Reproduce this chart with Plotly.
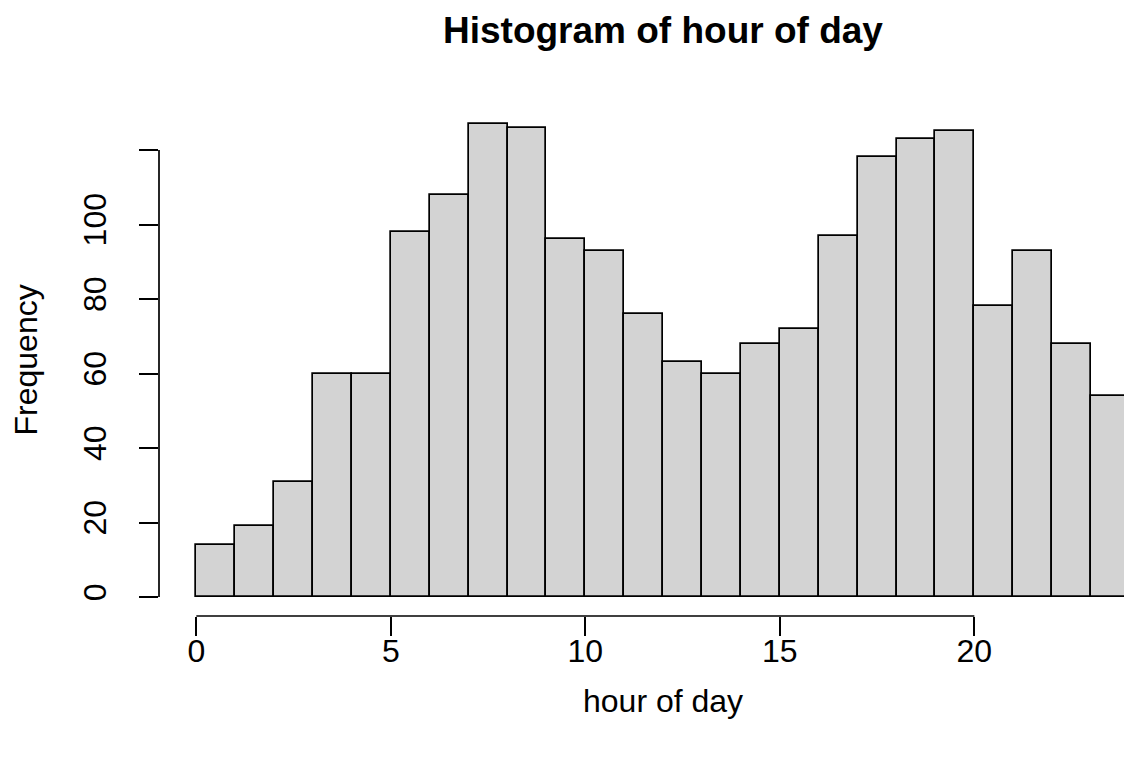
import plotly.graph_objects as go

# ---- data ----
bin_edges = list(range(25))  # hours 0..24
counts = [14, 19, 31, 60, 60, 98, 108, 127, 126, 96, 93, 76,
          63, 60, 68, 72, 97, 118, 123, 125, 78, 93, 68, 54]
x_ticks = [0, 5, 10, 15, 20]
y_ticks = [0, 20, 40, 60, 80, 100, 120]
y_tick_labels = ["0", "20", "40", "60", "80", "100", ""]  # R drops the top label
title_text = "Histogram of hour of day"
x_label = "hour of day"
y_label = "Frequency"

centers = [(bin_edges[i] + bin_edges[i + 1]) / 2 for i in range(len(counts))]
widths = [bin_edges[i + 1] - bin_edges[i] for i in range(len(counts))]

W, H = 1124, 768
ml, mr, mt, mb = 159, 0, 105, 152
FONT = "Liberation Sans, Arial, Helvetica, sans-serif"
AX_FS = 32

# R-style axis ranges (4% expansion)
xr_lo = bin_edges[0] - 0.04 * (bin_edges[-1] - bin_edges[0])
px_per_unit = 38.9
xr_hi = xr_lo + (W - ml - mr) / px_per_unit
ymax = max(counts)
yr = [-0.04 * ymax, ymax * 1.04]

fig = go.Figure()
fig.add_trace(go.Bar(
    x=centers, y=counts, width=widths,
    marker=dict(color="#D3D3D3", line=dict(color="black", width=1.7)),
    hoverinfo="x+y",
))

plot_h = H - mt - mb


def py(pix):
    return (H - mb - pix) / plot_h


def pxx(pix):
    return (pix - ml) / (W - ml - mr)


fig.update_layout(
    template="none",
    width=W, height=H, autosize=False,
    margin=dict(l=ml, r=mr, t=mt, b=mb, pad=0),
    paper_bgcolor="white", plot_bgcolor="white",
    showlegend=False, bargap=0,
    font=dict(family=FONT, size=AX_FS, color="black"),
    xaxis=dict(range=[xr_lo, xr_hi], tickvals=x_ticks, ticktext=[str(v) for v in x_ticks],
               ticks="outside", ticklen=19, tickwidth=1.7, tickcolor="black",
               showline=False, showgrid=False, zeroline=False, automargin=False,
               tickfont=dict(size=AX_FS, family=FONT), ticklabelstandoff=-12),
    yaxis=dict(range=yr, tickvals=y_ticks, ticktext=y_tick_labels,
               ticks="outside", ticklen=19, tickwidth=1.7, tickcolor="black",
               showline=False, showgrid=False, zeroline=False, tickangle=-90, automargin=False,
               tickfont=dict(size=AX_FS, family=FONT), ticklabelstandoff=20),
    shapes=[
        dict(type="line", xref="x", yref="paper", x0=x_ticks[0], x1=x_ticks[-1], y0=0, y1=0,
             line=dict(color="black", width=1.7)),
        dict(type="line", xref="paper", yref="y", x0=0, x1=0, y0=y_ticks[0], y1=y_ticks[-1],
             line=dict(color="black", width=1.7)),
    ],
    annotations=[
        dict(text="<b>" + title_text + "</b>", xref="x", yref="paper",
             x=(bin_edges[0] + bin_edges[-1]) / 2, y=py(31), xanchor="center", yanchor="middle",
             showarrow=False, font=dict(size=37, family=FONT)),
        dict(text=x_label, xref="x", yref="paper",
             x=(bin_edges[0] + bin_edges[-1]) / 2, y=py(701), xanchor="center", yanchor="middle",
             showarrow=False, font=dict(size=AX_FS, family=FONT)),
        dict(text=y_label, xref="paper", yref="y", textangle=-90,
             x=pxx(25), y=(yr[0] + yr[1]) / 2, xanchor="center", yanchor="middle",
             showarrow=False, font=dict(size=AX_FS, family=FONT)),
    ],
)

fig.write_html("out.html", config={"displayModeBar": False},
               post_script="document.body.style.margin='0';document.body.style.overflow='hidden';")
